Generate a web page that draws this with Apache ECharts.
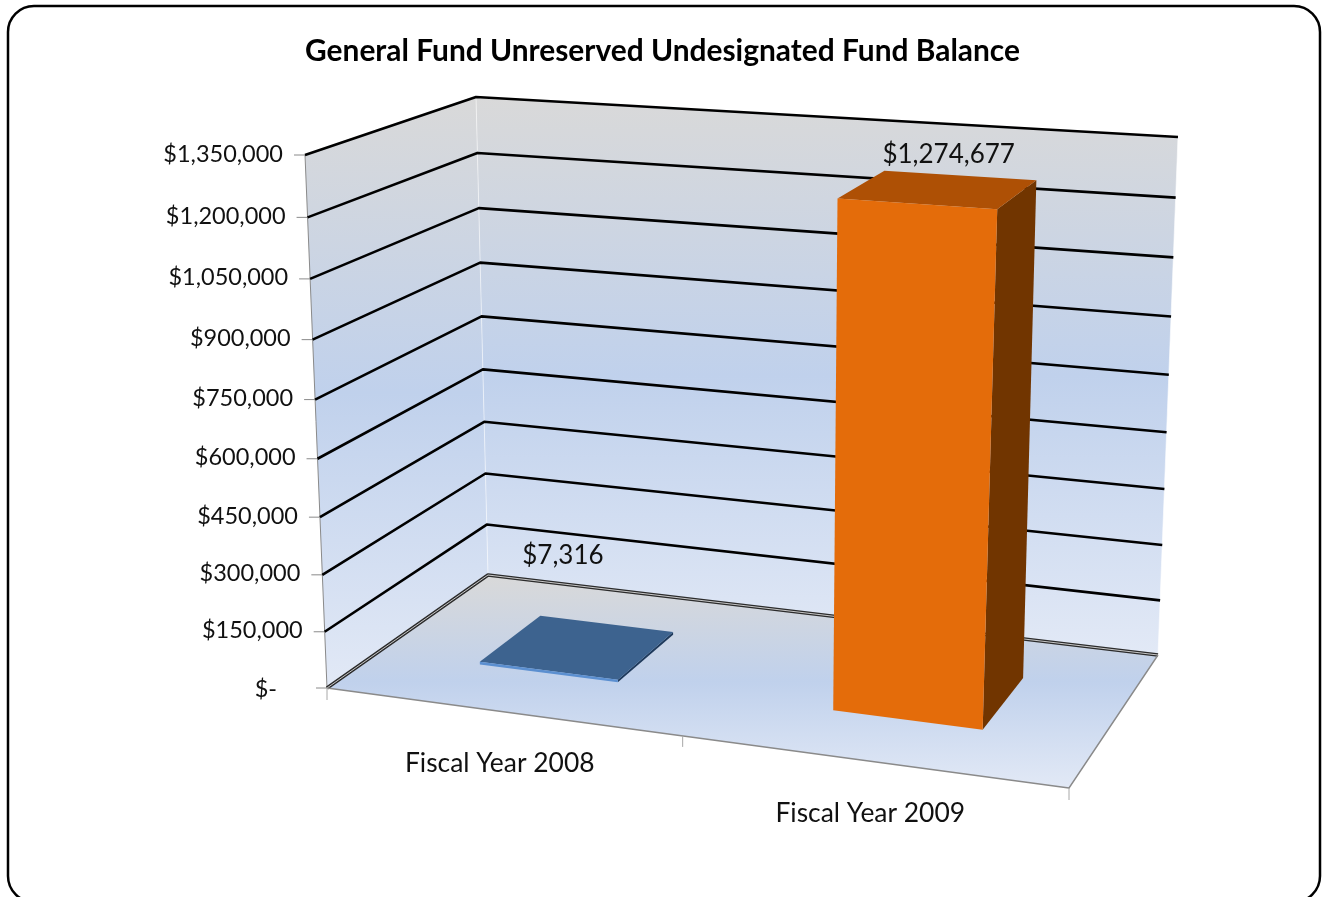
<!DOCTYPE html>
<html>
<head>
<meta charset="utf-8">
<title>General Fund Unreserved Undesignated Fund Balance</title>
<script src="https://cdn.jsdelivr.net/npm/echarts@6/dist/echarts.min.js"></script>
<style>
html, body { margin: 0; padding: 0; background: #fff; overflow: hidden; }
#chart { width: 1323px; height: 897px; }
</style>
</head>
<body>
<div id="chart"></div>
<script>
const chartTitle = 'General Fund Unreserved Undesignated Fund Balance'
const categories = ['Fiscal Year 2008', 'Fiscal Year 2009']
const fundBalance = [7316, 1274677]
const tickValues = [0, 150000, 300000, 450000, 600000, 750000, 900000, 1050000, 1200000, 1350000]

const fontFamily = 'Lato'
const textColor = '#111'
const axisGray = '#8a8a8a'
// front, side and top colour of each bar
const barColors = [
  { front: '#5b8fd0', side: '#1f3a5c', top: '#3d638f' },
  { front: '#e46c0a', side: '#713500', top: '#ae5005' }
]
const valueLabelShift = [[-15, -91], [10, -35]]
const gapWidth = 1.5
const barDepth = [0.3, 0.7]

// box corners on screen: front-left, front-right, back-right, back-left
const floorQuad = [[327, 688], [1069, 788], [1158, 655], [488, 575]]
const ceilQuad = [[305, 155], [1096, 208], [1178, 137], [476, 97]]
const heightPerspective = 1.06

function homography(q) {
  const dx1 = q[1][0] - q[2][0], dx2 = q[3][0] - q[2][0], sx = q[0][0] - q[1][0] + q[2][0] - q[3][0]
  const dy1 = q[1][1] - q[2][1], dy2 = q[3][1] - q[2][1], sy = q[0][1] - q[1][1] + q[2][1] - q[3][1]
  const den = dx1 * dy2 - dx2 * dy1
  const g = (sx * dy2 - dx2 * sy) / den
  const h = (dx1 * sy - sx * dy1) / den
  const a = q[1][0] - q[0][0] + g * q[1][0], b = q[3][0] - q[0][0] + h * q[3][0]
  const d = q[1][1] - q[0][1] + g * q[1][1], e = q[3][1] - q[0][1] + h * q[3][1]
  return (u, v) => {
    const w = g * u + h * v + 1
    return [(a * u + b * v + q[0][0]) / w, (d * u + e * v + q[0][1]) / w]
  }
}
const floorAt = homography(floorQuad)
const ceilAt = homography(ceilQuad)

// u along the categories, y up the value axis, z from front to back, all 0..1
function project(u, y, z) {
  const p = floorAt(u, z), q = ceilAt(u, z)
  const s = y / (y + heightPerspective * (1 - y))
  return [p[0] + (q[0] - p[0]) * s, p[1] + (q[1] - p[1]) * s]
}

// the hidden axes give the scale, the box projection gives the screen position
function toUnit(params, api, idx, val) {
  const cs = params.coordSys
  const pt = api.coord([idx, val])
  return [(pt[0] - cs.x) / cs.width, (cs.y + cs.height - pt[1]) / cs.height]
}

function poly(points, fill) {
  return { type: 'polygon', shape: { points: points }, style: { fill: fill, stroke: null } }
}
function line(points, stroke, width, opacity) {
  return {
    type: 'polyline',
    shape: { points: points },
    style: { fill: null, stroke: stroke, lineWidth: width, opacity: opacity === undefined ? 1 : opacity, lineJoin: 'round' }
  }
}
function label(text, x, y, align, size) {
  return {
    type: 'text',
    style: { text: text, x: x, y: y, align: align, verticalAlign: 'middle', fontFamily: fontFamily, fontSize: size, fill: textColor }
  }
}
function wallGradient() {
  return new echarts.graphic.LinearGradient(0, 0, 0, 1, [
    { offset: 0, color: '#d9d9d9' },
    { offset: 0.5, color: '#c0d1ec' },
    { offset: 1, color: '#e2e9f6' }
  ])
}
function moneyLabel(v) {
  return v === 0 ? '$-' : '$' + v.toLocaleString('en-US')
}

function renderBox() {
  const children = [
    poly([project(0, 0, 0), project(0, 1, 0), project(0, 1, 1), project(0, 0, 1)], wallGradient()),
    poly([project(0, 0, 1), project(0, 1, 1), project(1, 1, 1), project(1, 0, 1)], wallGradient()),
    poly([project(0, 0, 0), project(1, 0, 0), project(1, 0, 1), project(0, 0, 1)], wallGradient()),
    line([project(0, 0, 1), project(0, 1, 1)], '#fff', 1, 0.5),
    line([project(1, 0, 1), project(1, 1, 1)], '#fff', 1, 0.6),
    line([project(0, 0, 0), project(0, 1, 0)], axisGray, 1)
  ]
  return { type: 'group', children: children }
}

function renderGridline(params, api) {
  const y = toUnit(params, api, 0, api.value(1))[1]
  const a = project(0, y, 0), b = project(0, y, 1), c = project(1, y, 1)
  const children = [line([[a[0] - 11, a[1]], a], axisGray, 1)]
  if (api.value(1) > 0) {
    children.push(line([a, b, c], '#000', 2.6))
    children.push(label(moneyLabel(api.value(1)), a[0] - 22, a[1] - 1, 'right', 23.5))
  } else {
    children.push(label(moneyLabel(0), a[0] - 50, a[1] + 1, 'right', 23.5))
  }
  return { type: 'group', children: children }
}

function renderFloorEdges() {
  const a = project(0, 0, 0), b = project(0, 0, 1), c = project(1, 0, 1), d = project(1, 0, 0)
  return {
    type: 'group',
    children: [
      line([a, b, c], '#2b2b2b', 3.5),
      line([a, b, c], '#c8c8c8', 1),
      line([a, d, c], axisGray, 1.4),
      line([a, [a[0], a[1] + 12]], '#a8a8a8', 1),
      line([project(0.5, 0, 0), [project(0.5, 0, 0)[0], project(0.5, 0, 0)[1] + 11]], '#a8a8a8', 1),
      line([d, [d[0], d[1] + 12]], '#a8a8a8', 1)
    ]
  }
}

function renderBar(params, api) {
  const i = params.dataIndex
  const cs = params.coordSys
  const unit = toUnit(params, api, i, api.value(1))
  const half = api.size([1, 0])[0] / cs.width / (1 + gapWidth) / 2
  const u1 = unit[0] - half, u2 = unit[0] + half, y = unit[1]
  const z1 = barDepth[0], z2 = barDepth[1]
  const col = barColors[i]
  const foot = project(unit[0], 0, 0)
  const head = project(unit[0], y, (z1 + z2) / 2)
  return {
    type: 'group',
    children: [
      poly([project(u2, 0, z1), project(u2, 0, z2), project(u2, y, z2), project(u2, y, z1)], col.side),
      poly([project(u1, y, z1), project(u2, y, z1), project(u2, y, z2), project(u1, y, z2)], col.top),
      poly([project(u1, 0, z1), project(u2, 0, z1), project(u2, y, z1), project(u1, y, z1)], col.front),
      label(moneyLabel(api.value(1)), head[0] + valueLabelShift[i][0], head[1] + valueLabelShift[i][1], 'center', 26),
      label(categories[i], foot[0] - 1.5, foot[1] + 52, 'center', 26.4)
    ]
  }
}

const chart = echarts.init(document.getElementById('chart'))
chart.setOption({
  animation: false,
  backgroundColor: '#fff',
  title: {
    text: chartTitle,
    left: 657.5,
    top: 31,
    textAlign: 'center',
    textStyle: { fontFamily: fontFamily, fontSize: 29.9, fontWeight: 'bold', color: '#000' }
  },
  grid: { left: 0, right: 0, top: 0, bottom: 0 },
  xAxis: { type: 'category', data: categories, show: false },
  yAxis: { type: 'value', min: 0, max: 1350000, interval: 150000, show: false },
  graphic: [{
    type: 'rect',
    shape: { x: 8, y: 6, width: 1312, height: 896, r: 26 },
    style: { fill: null, stroke: '#000', lineWidth: 2.5 }
  }],
  series: [
    { name: 'box', type: 'custom', clip: false, renderItem: renderBox, data: [[0, 0]], encode: { x: 0, y: 1 } },
    { name: 'grid', type: 'custom', clip: false, renderItem: renderGridline, data: tickValues.map(v => [0, v]), encode: { x: 0, y: 1 } },
    { name: 'floor', type: 'custom', clip: false, renderItem: renderFloorEdges, data: [[0, 0]], encode: { x: 0, y: 1 } },
    { name: 'balance', type: 'custom', clip: false, renderItem: renderBar, data: fundBalance.map((v, i) => [i, v]), encode: { x: 0, y: 1 } }
  ]
})
</script>
</body>
</html>
